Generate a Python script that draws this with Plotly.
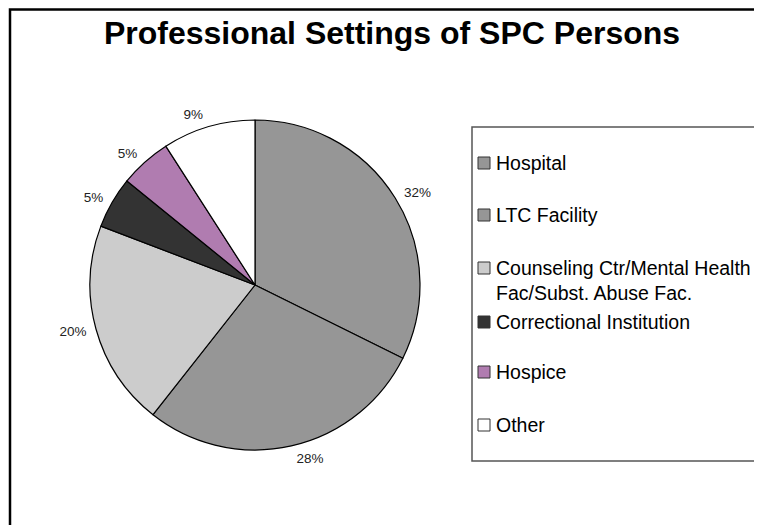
import plotly.graph_objects as go

# data
labels = ["Hospital", "LTC Facility", "Counseling Ctr/Mental Health<br>Fac/Subst. Abuse Fac.",
          "Correctional Institution", "Hospice", "Other"]
values = [32, 28, 20, 5, 5, 9]
pct_text = ["32%", "28%", "20%", "5%", "5%", "9%"]
colors = ["#969696", "#969696", "#cccccc", "#333333", "#b07cb0", "#ffffff"]

W, H = 762, 525
OFF = 8  # page body margin, subtract so things land where they are in the original


def px(x):
    return (x - OFF) / W


def py(y):
    return 1 - (y - OFF) / H


FONT = "Liberation Sans, Arial"
cx, cy, r = 255, 285, 165

# the pie itself
pie = go.Pie(
    labels=labels, values=values,
    textinfo="none",
    marker=dict(colors=colors, line=dict(color="black", width=1.2)),
    sort=False, direction="clockwise", rotation=0,
    showlegend=False, hoverinfo="label+percent",
    domain=dict(x=[px(cx - r), px(cx + r)], y=[py(cy + r), py(cy - r)]),
)

# invisible copy, a bit bigger, only to carry the % labels a little away from the edge
r2 = r + 6
pie_labels = go.Pie(
    labels=labels, values=values,
    text=pct_text, textinfo="text", textposition="outside",
    textfont=dict(family=FONT, size=13.5, color="#222222"),
    marker=dict(colors=["rgba(0,0,0,0)"] * len(values), line=dict(width=0)),
    sort=False, direction="clockwise", rotation=0,
    showlegend=False, hoverinfo="skip",
    domain=dict(x=[px(cx - r2), px(cx + r2)], y=[py(cy + r2), py(cy - r2)]),
)

fig = go.Figure(data=[pie_labels, pie])

# chart border (right / bottom edges run off the picture)
shapes = [dict(type="rect", xref="paper", yref="paper",
               x0=px(10), x1=1.05, y0=-0.05, y1=1 - 1.5 / H,
               line=dict(color="black", width=2.5))]

# legend drawn by hand so the spacing matches the original
shapes.append(dict(type="rect", xref="paper", yref="paper",
                   x0=px(472), x1=px(759), y0=py(461), y1=py(127),
                   line=dict(color="#555555", width=1.5)))

item_y = [163, 215, 280, 322, 372, 425]  # vertical centres of the legend entries
annotations = []
for lab, col, yc in zip(labels, colors, item_y):
    sq_y = yc - 12 if "<br>" in lab else yc
    shapes.append(dict(type="rect", xref="paper", yref="paper",
                       x0=px(478), x1=px(490), y0=py(sq_y + 6), y1=py(sq_y - 6),
                       fillcolor=col, line=dict(color="#333333", width=1)))
    annotations.append(dict(xref="paper", yref="paper", x=px(494), y=py(yc),
                            text=lab, showarrow=False, xanchor="left", yanchor="middle",
                            align="left",
                            font=dict(family=FONT, size=19.5, color="black")))

fig.update_layout(
    width=W, height=H,
    margin=dict(l=0, r=0, t=0, b=0),
    paper_bgcolor="white",
    title=dict(text="<b>Professional Settings of SPC Persons</b>",
               x=px(392), xanchor="center", y=py(33), yanchor="middle",
               font=dict(family=FONT, size=32, color="black")),
    shapes=shapes,
    annotations=annotations,
)

fig.write_html("out.html")
